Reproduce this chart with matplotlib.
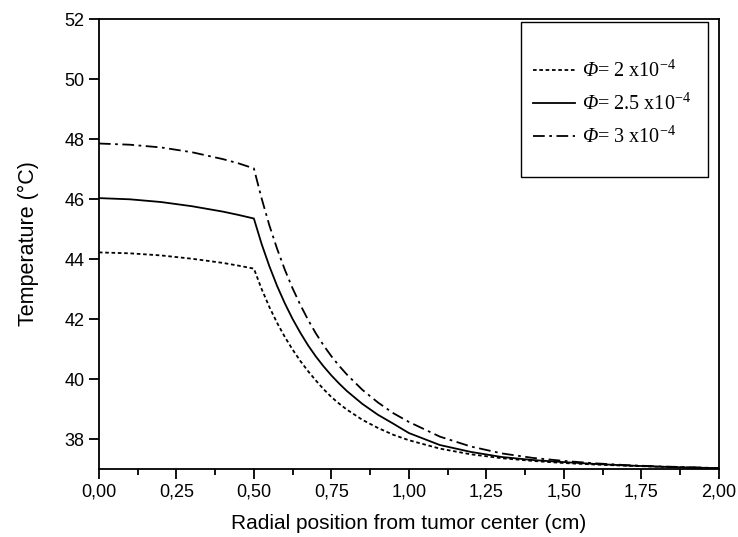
import numpy as np
import matplotlib
matplotlib.use("Agg")
import matplotlib.pyplot as plt
from matplotlib.patches import Rectangle
from matplotlib.ticker import MultipleLocator, FuncFormatter

plt.rcParams['font.family'] = ['Liberation Sans', 'DejaVu Sans']
# Greek capitals are always drawn with the 'rm' math font, so point it at italic
plt.rcParams['mathtext.fontset'] = 'custom'
plt.rcParams['mathtext.rm'] = 'Liberation Serif:italic'
plt.rcParams['mathtext.sf'] = 'Liberation Serif'

# radial position (cm)
r = [0.0, 0.1, 0.2, 0.3, 0.4, 0.45, 0.5, 0.525, 0.55, 0.575, 0.6, 0.625, 0.65,
     0.675, 0.7, 0.725, 0.75, 0.775, 0.8, 0.85, 0.9, 0.95, 1.0, 1.1, 1.2, 1.3,
     1.4, 1.5, 1.6, 1.7, 1.8, 1.9, 2.0]

# temperature (°C)
t_phi_2 = [44.22, 44.19, 44.12, 44.01, 43.87, 43.78, 43.68, 43.00, 42.40, 41.87,
           41.40, 40.98, 40.60, 40.26, 39.95, 39.66, 39.40, 39.18, 38.98, 38.64,
           38.37, 38.14, 37.96, 37.68, 37.49, 37.36, 37.27, 37.20, 37.15, 37.11,
           37.08, 37.05, 37.03]
t_phi_25 = [46.03, 45.99, 45.90, 45.76, 45.58, 45.47, 45.35, 44.50, 43.76, 43.10,
            42.52, 42.00, 41.54, 41.12, 40.75, 40.42, 40.12, 39.85, 39.60, 39.17,
            38.81, 38.51, 38.20, 37.80, 37.57, 37.40, 37.30, 37.23, 37.17, 37.12,
            37.08, 37.05, 37.03]
t_phi_3 = [47.85, 47.81, 47.72, 47.56, 47.33, 47.19, 47.02, 46.02, 45.12, 44.34,
           43.64, 43.02, 42.47, 41.97, 41.52, 41.12, 40.76, 40.44, 40.15, 39.64,
           39.22, 38.86, 38.57, 38.08, 37.75, 37.52, 37.37, 37.27, 37.19, 37.13,
           37.09, 37.06, 37.03]

labels = [r'$\mathrm{Φ}$= 2 x10$^{\mathsf{-4}}$',
          r'$\mathrm{Φ}$= 2.5 x10$^{\mathsf{-4}}$',
          r'$\mathrm{Φ}$= 3 x10$^{\mathsf{-4}}$']

fig = plt.figure(figsize=(7.38, 5.37), dpi=100)
ax = fig.add_axes([0.134, 0.1266, 0.840, 0.838])

ax.plot(r, t_phi_2, color='black', lw=1.3, ls=(0, (2, 1.5)), label=labels[0])
ax.plot(r, t_phi_25, color='black', lw=1.3, ls='-', label=labels[1])
ax.plot(r, t_phi_3, color='black', lw=1.3, ls=(0, (6.5, 2.5, 1.5, 2.5)), label=labels[2])

ax.set_xlim(0, 2.0)
ax.set_ylim(37, 52)
ax.xaxis.set_major_locator(MultipleLocator(0.25))
ax.xaxis.set_minor_locator(MultipleLocator(0.125))
ax.yaxis.set_major_locator(MultipleLocator(2))
ax.xaxis.set_major_formatter(FuncFormatter(lambda v, p: f"{v:.2f}".replace('.', ',')))
ax.tick_params(which='major', direction='out', length=7, width=1.3, labelsize=13,
               top=False, right=False)
ax.tick_params(which='minor', direction='out', length=4, width=1.3, top=False, right=False)
for s in ax.spines.values():
    s.set_linewidth(1.3)

ax.set_xlabel('Radial position from tumor center (cm)', fontsize=15, labelpad=10)
ax.set_ylabel('Temperature (°C)', fontsize=15.5, labelpad=18)

ax.add_patch(Rectangle((0.681, 0.649), 0.301, 0.344, transform=ax.transAxes,
                       fill=False, edgecolor='black', lw=1.0, zorder=5))
ax.legend(loc='center', bbox_to_anchor=(0.828, 0.811), frameon=False,
          prop={'family': 'Liberation Serif', 'size': 14.5}, handlelength=2.1,
          handletextpad=0.35, labelspacing=0.55)

fig.savefig('out.png', dpi=100)
